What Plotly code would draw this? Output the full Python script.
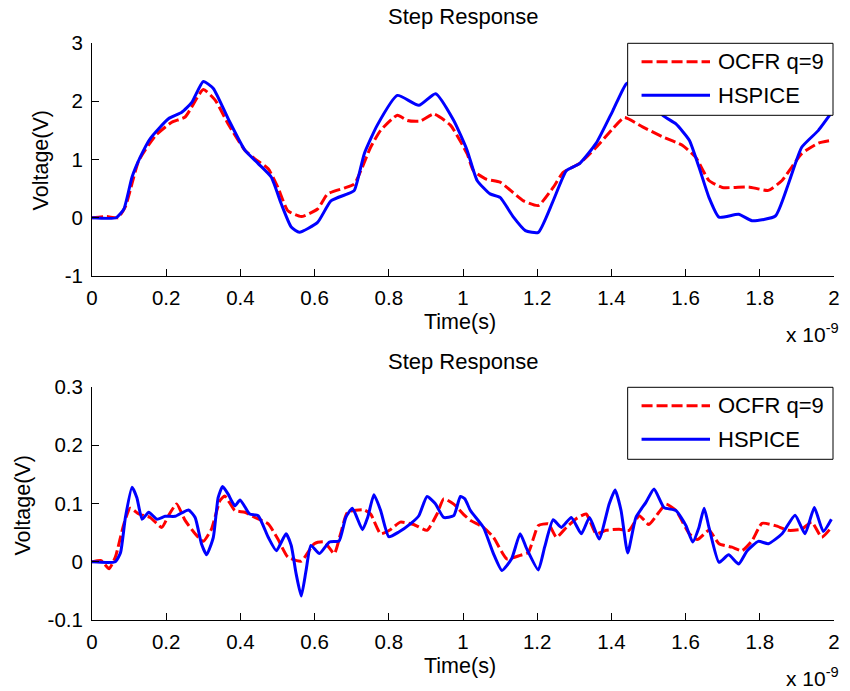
import plotly.graph_objects as go

# ---------------- data (time in units of 1e-9 s) ----------------
top_hspice_t = [0, 0.065, 0.086, 0.108, 0.13, 0.157, 0.206, 0.242, 0.269, 0.30, 0.327, 0.367, 0.412, 0.448,
                0.483, 0.51, 0.537, 0.559, 0.608, 0.644, 0.689, 0.707, 0.734, 0.769, 0.823, 0.881, 0.926,
                0.975, 1.011, 1.038, 1.073, 1.10, 1.136, 1.168, 1.203, 1.243, 1.279, 1.314, 1.359, 1.404,
                1.44, 1.46, 1.50, 1.538, 1.574, 1.61, 1.636, 1.663, 1.69, 1.743, 1.779, 1.842, 1.877, 1.913,
                1.958, 1.995]
top_hspice_v = [0, 0, 0.15, 0.70, 1.04, 1.36, 1.70, 1.81, 1.98, 2.34, 2.22, 1.70, 1.16, 0.93,
                0.70, 0.24, -0.16, -0.25, -0.08, 0.29, 0.41, 0.47, 1.10, 1.59, 2.10, 1.93, 2.13,
                1.67, 1.16, 0.64, 0.41, 0.35, 0.01, -0.22, -0.25, 0.29, 0.81, 0.93, 1.28, 1.84,
                2.30, 2.35, 2.10, 1.76, 1.61, 1.33, 0.87, 0.35, 0.01, 0.06, -0.05, 0.03, 0.58, 1.21,
                1.50, 1.82]

top_ocfr_t = [0, 0.04, 0.07, 0.09, 0.126, 0.171, 0.215, 0.251, 0.30, 0.332, 0.367, 0.412, 0.439, 0.475,
              0.501, 0.528, 0.564, 0.608, 0.635, 0.68, 0.707, 0.751, 0.778, 0.823, 0.85, 0.885, 0.921,
              0.966, 1.011, 1.028, 1.064, 1.10, 1.163, 1.203, 1.243, 1.27, 1.314, 1.359, 1.404, 1.435,
              1.484, 1.538, 1.592, 1.627, 1.663, 1.699, 1.77, 1.823, 1.86, 1.913, 1.958, 1.995]
top_ocfr_v = [0, 0.02, 0, 0.19, 0.98, 1.41, 1.64, 1.73, 2.20, 2.02, 1.61, 1.16, 1.01, 0.84,
              0.52, 0.12, 0.02, 0.15, 0.41, 0.51, 0.58, 1.21, 1.50, 1.76, 1.67, 1.66, 1.78,
              1.59, 1.10, 0.81, 0.66, 0.61, 0.29, 0.21, 0.52, 0.78, 0.93, 1.21, 1.53, 1.72,
              1.56, 1.39, 1.24, 1.04, 0.64, 0.52, 0.53, 0.47, 0.64, 1.10, 1.28, 1.33]

bot_hspice_t = [0, 0.063, 0.077, 0.09, 0.108, 0.121, 0.135, 0.153, 0.175, 0.197, 0.224, 0.26, 0.278,
                0.295, 0.309, 0.327, 0.34, 0.352, 0.367, 0.385, 0.399, 0.425, 0.448, 0.475, 0.497,
                0.523, 0.537, 0.55, 0.564, 0.577, 0.59, 0.613, 0.64, 0.666, 0.684, 0.702, 0.729,
                0.743, 0.76, 0.778, 0.80, 0.827, 0.858, 0.881, 0.903, 0.925, 0.948, 0.975, 0.993,
                1.005, 1.02, 1.055, 1.082, 1.105, 1.131, 1.154, 1.172, 1.203, 1.22, 1.243, 1.265,
                1.292, 1.319, 1.341, 1.367, 1.394, 1.41, 1.426, 1.444, 1.466, 1.493, 1.515, 1.542,
                1.574, 1.601, 1.619, 1.636, 1.65, 1.663, 1.69, 1.716, 1.743, 1.766, 1.796, 1.823,
                1.86, 1.895, 1.922, 1.947, 1.971, 1.993]
bot_hspice_v = [0, 0, 0.016, 0.076, 0.128, 0.11, 0.073, 0.085, 0.073, 0.078, 0.078, 0.089, 0.076,
                0.031, 0.012, 0.042, 0.11, 0.129, 0.116, 0.096, 0.106, 0.082, 0.079, 0.042, 0.019,
                0.048, 0.028, -0.02, -0.059, -0.015, 0.028, 0.014, 0.034, 0.036, 0.076, 0.092, 0.055,
                0.076, 0.115, 0.088, 0.043, 0.051, 0.065, 0.079, 0.112, 0.10, 0.076, 0.079, 0.112,
                0.108, 0.088, 0.059, 0.014, -0.015, 0.005, 0.048, 0.022, -0.014, 0.025, 0.072, 0.059,
                0.076, 0.048, 0.076, 0.039, 0.099, 0.123, 0.088, 0.015, 0.076, 0.102, 0.125, 0.093,
                0.088, 0.062, 0.034, 0.059, 0.092, 0.059, -0.001, 0.012, -0.004, 0.019, 0.035, 0.031,
                0.048, 0.08, 0.048, 0.093, 0.052, 0.073]

bot_ocfr_t = [0, 0.025, 0.046, 0.063, 0.086, 0.103, 0.126, 0.157, 0.188, 0.206, 0.228, 0.251, 0.278,
              0.30, 0.322, 0.345, 0.358, 0.385, 0.412, 0.439, 0.475, 0.501, 0.528, 0.564, 0.599,
              0.626, 0.653, 0.67, 0.689, 0.734, 0.751, 0.778, 0.804, 0.831, 0.867, 0.903, 0.93,
              0.948, 0.975, 1.002, 1.02, 1.055, 1.082, 1.118, 1.154, 1.176, 1.203, 1.23, 1.252,
              1.279, 1.305, 1.332, 1.359, 1.386, 1.421, 1.448, 1.475, 1.501, 1.528, 1.547, 1.574,
              1.61, 1.632, 1.663, 1.69, 1.725, 1.752, 1.779, 1.806, 1.842, 1.877, 1.913, 1.94,
              1.967, 1.993]
bot_ocfr_v = [0, 0.002, -0.012, 0.008, 0.065, 0.092, 0.082, 0.076, 0.059, 0.079, 0.099, 0.071, 0.048,
              0.035, 0.056, 0.105, 0.113, 0.088, 0.085, 0.076, 0.065, 0.039, 0.008, 0.001, 0.031,
              0.034, 0.014, 0.048, 0.085, 0.089, 0.082, 0.048, 0.055, 0.068, 0.064, 0.054, 0.082,
              0.108, 0.099, 0.081, 0.071, 0.059, 0.042, 0.005, 0.011, 0.016, 0.062, 0.065, 0.042,
              0.059, 0.074, 0.082, 0.048, 0.054, 0.056, 0.054, 0.079, 0.064, 0.085, 0.099, 0.088,
              0.048, 0.038, 0.054, 0.031, 0.025, 0.019, 0.036, 0.066, 0.062, 0.054, 0.056, 0.068,
              0.042, 0.059]

x_tickvals = [0, 0.2, 0.4, 0.6, 0.8, 1.0, 1.2, 1.4, 1.6, 1.8, 2.0]
x_ticktext = ["0", "0.2", "0.4", "0.6", "0.8", "1", "1.2", "1.4", "1.6", "1.8", "2"]
top_y_tickvals = [-1, 0, 1, 2, 3]
top_y_ticktext = ["-1", "0", "1", "2", "3"]
bot_y_tickvals = [-0.1, 0, 0.1, 0.2, 0.3]
bot_y_ticktext = ["-0.1", "0", "0.1", "0.2", "0.3"]

series_names = ["OCFR q=9", "HSPICE"]
title_text = "Step Response"
xlabel_text = "Time(s)"
ylabel_text = "Voltage(V)"
exp_text = "x 10<sup>-9</sup>"

assert len(top_hspice_t) == len(top_hspice_v)
assert len(top_ocfr_t) == len(top_ocfr_v)
assert len(bot_hspice_t) == len(bot_hspice_v)
assert len(bot_ocfr_t) == len(bot_ocfr_v)

# ---------------- layout helpers ----------------
W, H = 850, 691
ML, MR, MT, MB = 92, 10, 43, 71
PW, PH = W - ML - MR, H - MT - MB
FONT = "Liberation Sans, Arial, Helvetica, sans-serif"
RED, BLUE = "#FF0000", "#0000FF"
DASH = "11px,4px"
SMOOTH = 0.5


def px(x):
    return (x - ML) / PW


def py(y):
    return (H - MB - y) / PH


fig = go.Figure()
fig.add_trace(go.Scatter(x=top_ocfr_t, y=top_ocfr_v, mode="lines", name=series_names[0],
                         line=dict(color=RED, width=3, dash=DASH, shape="spline", smoothing=SMOOTH),
                         xaxis="x", yaxis="y", showlegend=False))
fig.add_trace(go.Scatter(x=top_hspice_t, y=top_hspice_v, mode="lines", name=series_names[1],
                         line=dict(color=BLUE, width=3, shape="spline", smoothing=SMOOTH),
                         xaxis="x", yaxis="y", showlegend=False))
fig.add_trace(go.Scatter(x=bot_ocfr_t, y=bot_ocfr_v, mode="lines", name=series_names[0],
                         line=dict(color=RED, width=3, dash=DASH, shape="spline", smoothing=SMOOTH),
                         xaxis="x2", yaxis="y2", showlegend=False))
fig.add_trace(go.Scatter(x=bot_hspice_t, y=bot_hspice_v, mode="lines", name=series_names[1],
                         line=dict(color=BLUE, width=3, shape="spline", smoothing=SMOOTH),
                         xaxis="x2", yaxis="y2", showlegend=False))

top_dom = [py(276), 1.0]
bot_dom = [0.0, py(387)]

axis_common = dict(showline=True, linecolor="black", linewidth=1, ticks="inside", ticklen=7,
                   tickcolor="black", tickwidth=1, showgrid=False, zeroline=False, mirror=False,
                   tickfont=dict(family=FONT, size=20.5, color="black"))

fig.update_layout(
    width=W, height=H,
    margin=dict(l=ML, r=MR, t=MT, b=MB),
    paper_bgcolor="white", plot_bgcolor="white",
    font=dict(family=FONT, color="black"),
    xaxis=dict(domain=[0, 1], anchor="y", range=[0, 2], tickvals=x_tickvals, ticktext=x_ticktext,
               ticklabelstandoff=3, **axis_common),
    yaxis=dict(domain=top_dom, anchor="x", range=[-1, 3], tickvals=top_y_tickvals, ticktext=top_y_ticktext,
               ticklabelstandoff=4, **axis_common),
    xaxis2=dict(domain=[0, 1], anchor="y2", range=[0, 2], tickvals=x_tickvals, ticktext=x_ticktext,
                ticklabelstandoff=3, **axis_common),
    yaxis2=dict(domain=bot_dom, anchor="x2", range=[-0.1, 0.3], tickvals=bot_y_tickvals,
                ticktext=bot_y_ticktext, ticklabelstandoff=4, **axis_common),
    showlegend=False,
)

ann = []
shapes = []
for off, ylab_x in [(0, 41), (344, 22)]:
    ann.append(dict(text=title_text, x=px(466), y=py(17 + off), xref="paper", yref="paper",
                    xanchor="center", yanchor="middle", showarrow=False, font=dict(size=22)))
    ann.append(dict(text=xlabel_text, x=px(463), y=py(322 + off), xref="paper", yref="paper",
                    xanchor="center", yanchor="middle", showarrow=False, font=dict(size=21.5)))
    ann.append(dict(text=exp_text, x=px(847), y=py(333 + off), xref="paper", yref="paper",
                    xanchor="right", yanchor="middle", showarrow=False, font=dict(size=21)))
    ann.append(dict(text=ylabel_text, x=px(ylab_x), y=py(160 + off + (2 if off else 0)),
                    xref="paper", yref="paper", xanchor="center", yanchor="middle",
                    textangle=-90, showarrow=False, font=dict(size=21.5)))
    # legend box
    top = 43.3 + off
    shapes.append(dict(type="rect", xref="paper", yref="paper", x0=px(632), x1=px(839),
                       y0=py(top + 72), y1=py(top), fillcolor="white",
                       line=dict(color="black", width=1), layer="above"))
    shapes.append(dict(type="line", xref="paper", yref="paper", x0=px(646), x1=px(715),
                       y0=py(top + 18.5), y1=py(top + 18.5), line=dict(color=RED, width=3, dash=DASH),
                       layer="above"))
    shapes.append(dict(type="line", xref="paper", yref="paper", x0=px(646), x1=px(715),
                       y0=py(top + 52), y1=py(top + 52), line=dict(color=BLUE, width=3),
                       layer="above"))
    ann.append(dict(text=series_names[0], x=px(721), y=py(top + 18.5), xref="paper", yref="paper",
                    xanchor="left", yanchor="middle", showarrow=False, font=dict(size=22)))
    ann.append(dict(text=series_names[1], x=px(721), y=py(top + 52), xref="paper", yref="paper",
                    xanchor="left", yanchor="middle", showarrow=False, font=dict(size=22)))

fig.update_layout(annotations=ann, shapes=shapes)
fig.write_html("out.html", config={"displayModeBar": False},
               post_script="document.body.style.margin='0';")
